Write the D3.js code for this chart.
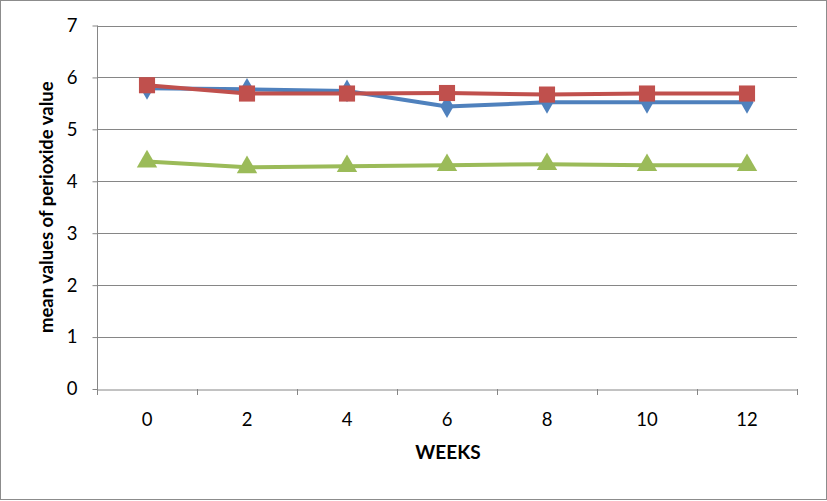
<!DOCTYPE html>
<html><head><meta charset="utf-8">
<script src="https://cdn.jsdelivr.net/npm/d3@7"></script>
<style>body{margin:0;background:#fff}svg{display:block}</style>
</head><body>
<svg id="c" width="827" height="501"></svg>
<script>
const weeks = ["0","2","4","6","8","10","12"];
const seriesBlue = [5.79, 5.77, 5.74, 5.44, 5.52, 5.52, 5.52];
const seriesRed = [5.85, 5.69, 5.69, 5.70, 5.67, 5.69, 5.69];
const seriesGreen = [4.38, 4.27, 4.29, 4.31, 4.33, 4.31, 4.31];
const yTicks = [0,1,2,3,4,5,6,7];
const xTitle = "WEEKS";
const yTitle = "mean values of perioxide value";

const svg = d3.select("#c");
const font = "Lato, 'Open Sans', sans-serif";
svg.append("rect").attr("x",0.5).attr("y",0.5).attr("width",826).attr("height",499)
  .attr("fill","#fff").attr("stroke","#8c8c8c");

const L=97, R=797, T=25.5, B=389;
const x = d3.scaleBand().domain(weeks).range([L,R]);
const y = d3.scaleLinear().domain([0,7]).range([B,T]);

// gridlines
svg.append("g").selectAll("line").data(yTicks.filter(d=>d>0)).join("line")
  .attr("x1",L).attr("x2",R).attr("y1",d=>Math.round(y(d))+0.5).attr("y2",d=>Math.round(y(d))+0.5)
  .attr("stroke","#868686").attr("stroke-width",1);

// y axis
const ya = svg.append("g").attr("transform",`translate(${L+0.5},0)`)
  .call(d3.axisLeft(y).tickValues(yTicks).tickSize(5).tickPadding(15).tickFormat(d3.format("d")));
ya.select(".domain").attr("stroke","#868686").attr("d",`M0,${T}V${B}`);
ya.selectAll(".tick line").attr("stroke","#868686");
ya.selectAll(".tick text").attr("font-family",font).attr("font-size",18.5).attr("fill","#000");

// x axis
const xa = svg.append("g").attr("transform",`translate(0,${Math.round(B)+0.5})`)
  .call(d3.axisBottom(x).tickSize(0).tickPadding(23));
xa.select(".domain").attr("stroke","#868686");
xa.selectAll(".tick line").remove();
xa.selectAll(".tick text").attr("font-family",font).attr("font-size",18.5).attr("fill","#000");
// category boundary ticks
svg.append("g").selectAll("line").data(d3.range(weeks.length+1)).join("line")
  .attr("x1",i=>L+i*x.step()+0.5).attr("x2",i=>L+i*x.step()+0.5)
  .attr("y1",Math.round(B)).attr("y2",Math.round(B)+6).attr("stroke","#868686");

// titles
svg.append("text").attr("x",(L+R)/2+1).attr("y",459).attr("text-anchor","middle")
  .attr("font-family",font).attr("font-weight","bold").attr("font-size",19).text(xTitle);
svg.append("text").attr("transform",`translate(53,${(T+B)/2}) rotate(-90)`).attr("text-anchor","middle")
  .attr("font-family",font).attr("font-weight","bold").attr("font-size",18.5).text(yTitle);

const cx = (d,i)=>x(weeks[i])+x.bandwidth()/2;
const line = d3.line().x((d,i)=>cx(d,i)).y(d=>y(d));

const series = [
  {vals:seriesBlue, color:"#4F81BD", sym:d3.symbolDiamond, size:150},
  {vals:seriesRed, color:"#C0504D", sym:d3.symbolSquare, size:260},
  {vals:seriesGreen, color:"#9BBB59", sym:d3.symbolTriangle, size:180}
];
series.forEach(s=>{
  svg.append("path").attr("d",line(s.vals)).attr("fill","none").attr("stroke",s.color)
    .attr("stroke-width",4).attr("stroke-linejoin","round");
});
series.forEach(s=>{
  svg.append("g").selectAll("path").data(s.vals).join("path")
    .attr("transform",(d,i)=>`translate(${cx(d,i)},${y(d)})`)
    .attr("d",d3.symbol().type(s.sym).size(s.size)).attr("fill",s.color);
});
</script>
</body></html>
